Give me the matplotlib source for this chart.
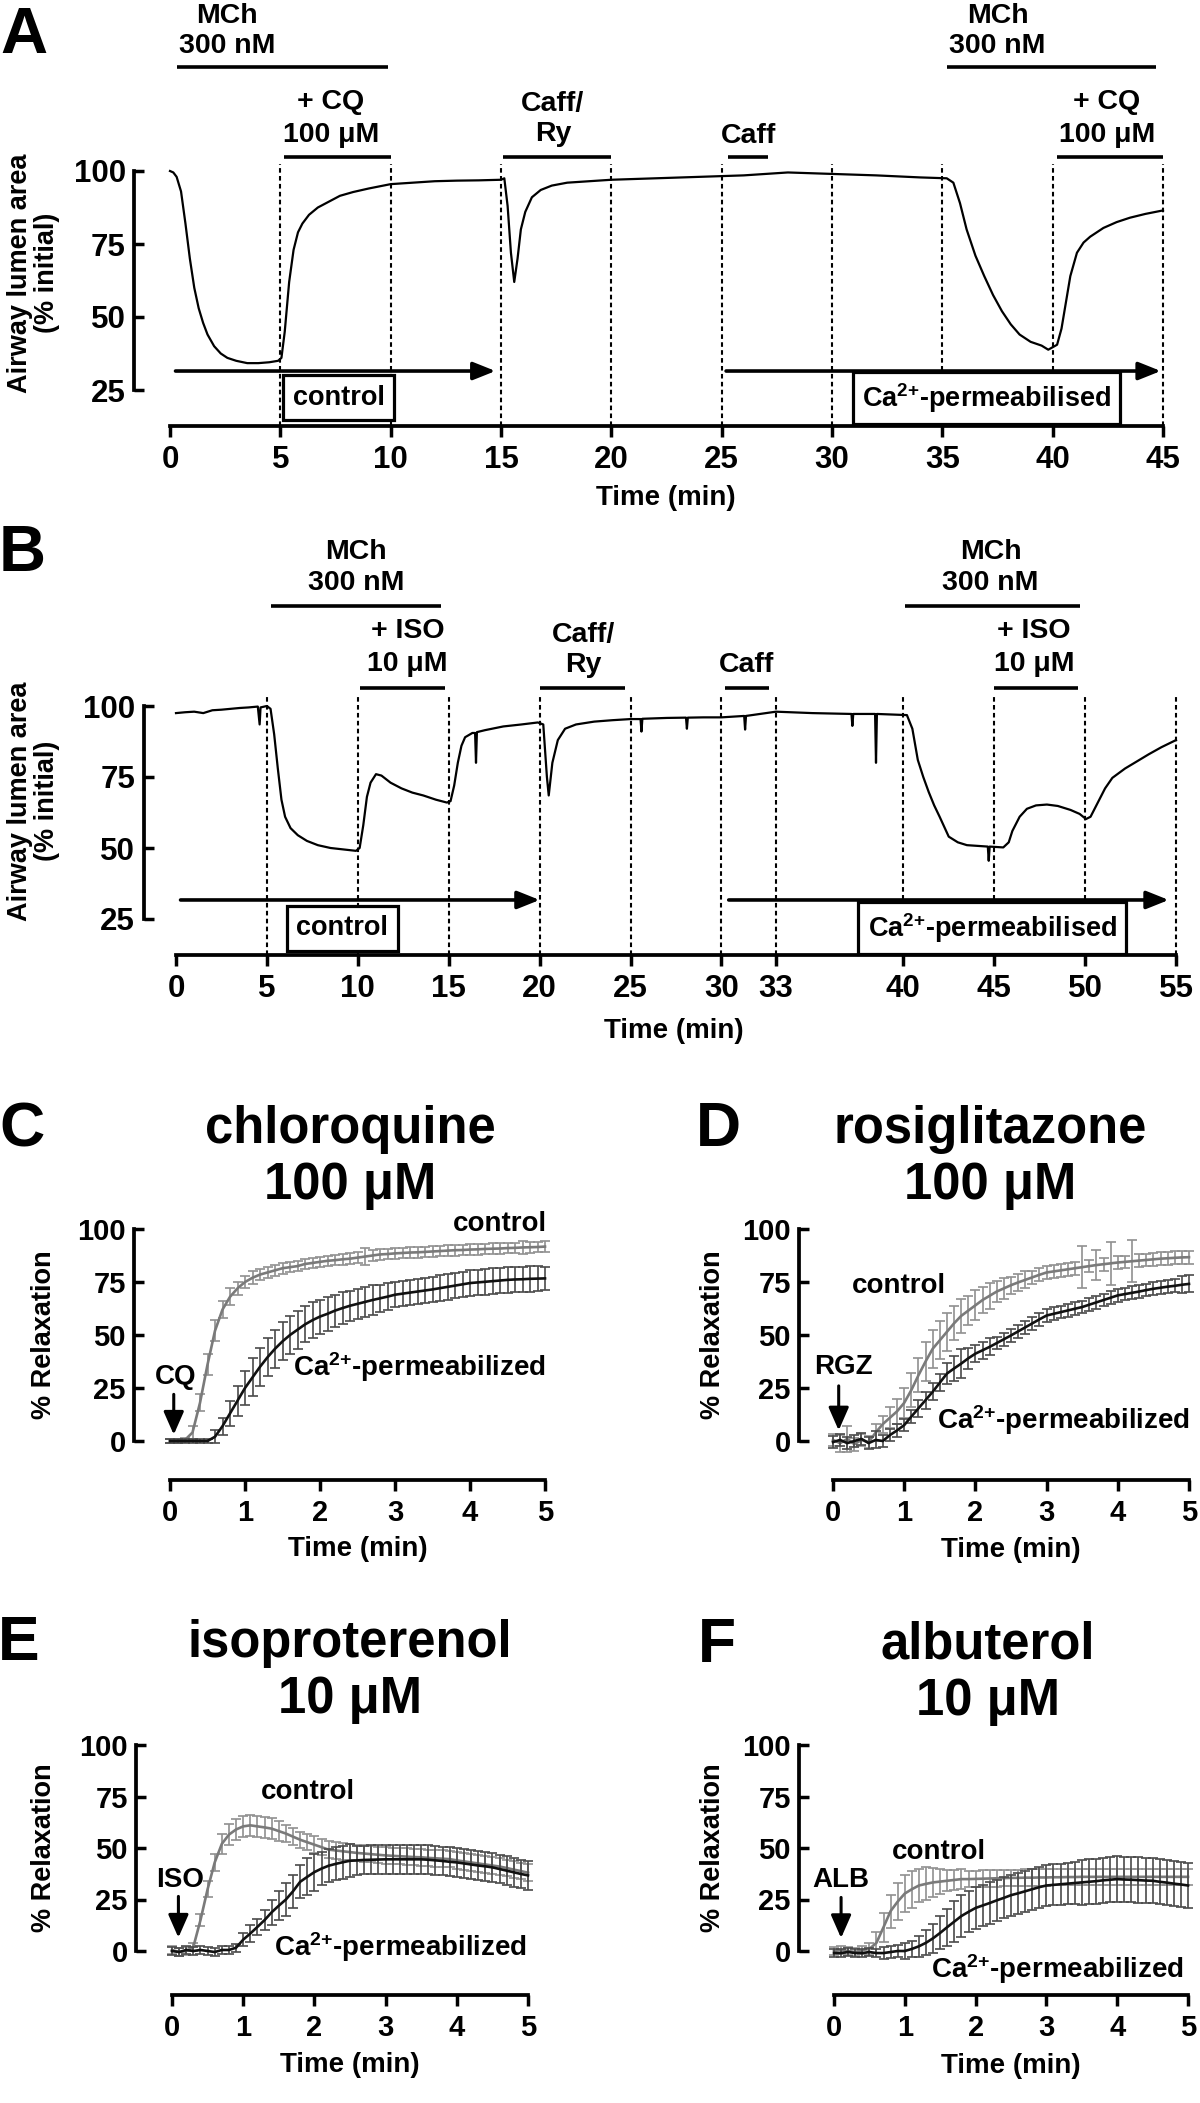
import numpy as np
import matplotlib
matplotlib.use("Agg")
import matplotlib.pyplot as plt

# ---------------- data ----------------
# Panel A : airway lumen area trace (chloroquine protocol)
a_time = [0, 0.15, 0.3, 0.5, 0.7, 0.9, 1.1, 1.3, 1.5, 1.7,
          2.0, 2.3, 2.6, 3.0, 3.5, 4.0, 4.5, 4.9, 5.05, 5.2,
          5.4, 5.6, 5.8, 6.0, 6.3, 6.7, 7.2, 7.7, 8.3, 9.0,
          10, 11, 12, 13, 14, 15.0, 15.15, 15.3, 15.45, 15.6,
          15.75, 15.9, 16.1, 16.4, 16.8, 17.3, 18, 19, 20, 22,
          24, 26, 28, 30, 32, 34, 35.2, 35.5, 35.8, 36.1,
          36.5, 36.9, 37.3, 37.7, 38.1, 38.5, 39.0, 39.5, 39.8, 40.2,
          40.4, 40.6, 40.8, 41.1, 41.4, 41.7, 42.3, 42.9, 43.5, 44.2, 45]
a_area = [100, 99.5, 98, 93, 82, 70, 60, 53, 48, 44,
          40, 37.5, 36, 35, 34.2, 34.2, 34.5, 35, 36, 45,
          62, 73, 79, 82, 85, 87.5, 89.5, 91.5, 92.8, 94,
          95.5, 96, 96.5, 96.7, 96.8, 97, 97.5, 88, 72, 62,
          70, 80, 86, 91, 93.5, 95, 96, 96.5, 97, 97.5,
          98, 98.5, 99.5, 99, 98.5, 97.8, 97.5, 96, 89, 80,
          71, 64, 57.5, 52, 47.5, 44, 41.5, 40.2, 38.8, 40.5,
          46, 55, 64, 72, 75.5, 77.5, 80.5, 82.5, 84, 85.3, 86.5]
a_xticks = [0, 5, 10, 15, 20, 25, 30, 35, 40, 45]
a_dashed = [5, 10, 15, 20, 25, 30, 35, 40, 45]

# Panel B : airway lumen area trace (isoproterenol protocol)
b_time = [0, 0.5, 1, 1.5, 2, 2.5, 3, 3.5, 4, 4.5,
          4.6, 4.65, 5.0, 5.2, 5.4, 5.6, 5.8, 6.0, 6.3, 6.7,
          7.2, 7.8, 8.5, 9.2, 9.9, 10.1, 10.3, 10.5, 10.7, 11.0,
          11.3, 11.8, 12.4, 13.0, 13.6, 14.3, 14.9, 15.1, 15.3, 15.5,
          15.7, 15.9, 16.3, 16.45, 16.5, 16.55, 17, 18, 19, 19.9,
          20.2, 20.4, 20.5, 20.7, 21, 21.4, 22, 23, 24, 25,
          25.55, 25.6, 25.65, 27, 28.05, 28.1, 28.15, 29, 30, 31.25,
          31.3, 31.35, 33, 35, 37.15, 37.2, 37.25, 38.45, 38.5, 38.55,
          40.2, 40.5, 40.8, 41.1, 41.4, 41.7, 42.0, 42.5, 43.0, 43.5,
          44.65, 44.7, 44.75, 45.5, 45.8, 46.0, 46.4, 46.8, 47.3, 47.9,
          48.5, 49.2, 49.7, 50.05, 50.3, 50.7, 51.1, 51.5, 52.2, 52.8,
          53.5, 54.2, 55]
b_area = [97.5, 97.8, 98, 97.5, 98.5, 98.7, 99, 99.3, 99.5, 99.8,
          93.5, 99.5, 100, 99, 90, 78, 67, 61, 57, 54.5,
          52.5, 51, 50, 49.5, 49, 50, 58, 68, 73, 76,
          75.5, 73, 71, 69.5, 68.5, 67, 66, 66.5, 72, 80,
          86, 89, 90.5, 90.5, 80, 90.8, 91.5, 92.8, 93.5, 94.2,
          93.5, 75, 68.5, 80, 88, 92, 93.5, 94.5, 95, 95.4,
          95.4, 91, 95.5, 95.8, 95.9, 92, 95.9, 96, 96, 96.5,
          91.7, 96.5, 98, 97.5, 97.2, 93, 97.2, 97.2, 80, 97.2,
          96.8, 92, 81, 75, 69.7, 65, 61, 54, 52, 51,
          50.5, 45.5, 50.5, 50.2, 52, 56, 61, 63.8, 65, 65.3,
          64.8, 63.4, 62, 60.2, 61, 66, 71, 74.7, 78, 80.3,
          83, 85.5, 88]
b_xticks = [0, 5, 10, 15, 20, 25, 30, 33, 40, 45, 50, 55]
b_dashed = [5, 10, 15, 20, 25, 30, 33, 40, 45, 50, 55]

# Panels C-F : % relaxation, mean and SEM
t5 = [0.0, 0.1, 0.2, 0.3, 0.4, 0.5, 0.6, 0.7, 0.8, 0.9,
      1.0, 1.1, 1.2, 1.3, 1.4, 1.5, 1.6, 1.7, 1.8, 1.9,
      2.0, 2.1, 2.2, 2.3, 2.4, 2.5, 2.6, 2.7, 2.8, 2.9,
      3.0, 3.1, 3.2, 3.3, 3.4, 3.5, 3.6, 3.7, 3.8, 3.9,
      4.0, 4.1, 4.2, 4.3, 4.4, 4.5, 4.6, 4.7, 4.8, 4.9, 5.0]

cq_ctrl = [0, 0, 0.5, 4, 18, 36, 52, 62, 68, 72,
           75, 77, 78.5, 79.5, 80.5, 81.5, 82, 82.5, 83.5, 84,
           84.5, 85, 85.3, 85.7, 86, 86.5, 87, 87.5, 88, 88.2,
           88.5, 88.7, 88.9, 89, 89.2, 89.4, 89.6, 89.8, 90, 90.1,
           90.3, 90.4, 90.6, 90.7, 90.8, 91, 91.1, 91.3, 91.4, 91.5, 91.7]
cq_ctrl_err = [1, 1, 1, 3, 4, 5, 5, 4, 4, 3,
               3, 3, 2.5, 2.5, 2.5, 2.5, 2.5, 2.5, 2.5, 2.5,
               2.5, 2.5, 2.5, 2.5, 2.5, 2.5, 4, 2.5, 2.5, 2.5,
               2.5, 2.5, 2.5, 2.5, 2.5, 2.5, 2.5, 2.5, 2.5, 2.5,
               2.5, 2.5, 2.5, 2.5, 2.5, 2.5, 2.5, 3, 2.5, 2.5, 2.5]
cq_perm = [0, 0, 0, 0, 0, 0, 2, 7, 13, 19,
           25, 30, 35, 39.5, 43.5, 47, 50, 52.5, 55, 57,
           58.7, 60, 61.5, 62.7, 63.8, 64.7, 65.6, 66.5, 67.3, 68.1,
           69, 69.5, 70, 70.5, 71, 71.5, 72.1, 72.7, 73.3, 73.9,
           74.5, 74.8, 75.1, 75.4, 75.7, 76, 76.2, 76.3, 76.5, 76.6, 76.7]
cq_perm_err = [1, 1, 1, 1, 1, 1, 3, 4, 6, 7,
               8, 9, 9, 9, 9, 9, 9, 9, 8.5, 8.5,
               8, 8, 7.5, 7.5, 7, 7, 7, 7, 6.5, 6.5,
               6, 6, 6, 6, 6, 6, 6, 6, 6, 6,
               6, 6, 6, 6, 6, 6, 6, 6, 6, 6, 5.5]

rgz_ctrl = [0.5, -1, 1, -1.5, 0.5, -0.5, 4, 8, 11, 14,
            18, 24, 31, 37.5, 43.5, 47.5, 51.5, 55.5, 59, 61.5,
            64, 66.5, 68.5, 70.5, 72, 73.5, 74.8, 76, 77.2, 78.4,
            79.5, 80, 80.5, 81, 81.5, 82, 82.5, 83, 83.4, 83.8,
            84.2, 84.5, 84.8, 85.1, 85.4, 85.7, 86, 86.2, 86.4, 86.6, 86.7]
rgz_ctrl_err = [3, 4, 6, 3, 3, 3, 4, 4, 5, 6,
                7, 8, 8, 9, 9, 9, 9, 8, 8, 7,
                7, 6, 6, 5, 5, 4, 4, 4, 3, 3,
                3, 3, 3, 3, 3, 10, 3, 7, 3, 10,
                3, 3, 10, 3, 3, 3, 3, 3, 3, 3, 3]
rgz_perm = [-0.5, 0.5, -1, 0, 1, -1, 0.5, 0, 2.8, 5,
            7.5, 11.5, 15.4, 19.3, 23.2, 27.5, 31.8, 34.2, 36.5, 39,
            41.2, 42.8, 44.4, 46.2, 48, 49.8, 51.7, 53.6, 55.5, 57.4,
            59.2, 60, 60.8, 61.6, 62.4, 63.2, 64.3, 65.4, 66.5, 67.6,
            68.7, 69.3, 69.9, 70.5, 71.2, 71.8, 72.3, 72.8, 73.2, 73.7, 74.1]
rgz_perm_err = [3, 3, 3, 3, 3, 3, 4, 3, 3, 3,
                3, 3, 4, 4, 4, 4, 5, 6, 7, 5,
                4, 4, 4, 3, 3, 3, 3, 3, 3, 3,
                3, 3, 3, 3, 3, 3, 3, 3, 3, 3,
                3, 3, 3, 3, 3, 3, 3, 3, 3, 4, 4]

iso_ctrl = [0.5, -0.5, 0, 2, 15, 30, 43, 52, 56.5, 59,
            60.5, 61, 60.5, 60, 59.4, 58.2, 57, 55.5, 54, 52.8,
            51.6, 50.4, 49.2, 48.8, 48.4, 48, 47.6, 47.3, 47, 46.7,
            46.4, 46.2, 46, 45.8, 45.6, 45.5, 45.2, 45, 44.8, 44.6,
            44, 43.5, 43, 42.5, 42, 41.5, 41, 40.3, 39.5, 38.8, 38]
iso_ctrl_err = [2, 2, 2, 2, 3, 4, 4, 5, 5, 5,
                5, 5, 5, 5, 5, 5, 4, 4, 4, 4,
                4, 4, 4, 4, 4, 4, 4, 4, 4, 4,
                4, 4, 4, 4, 4, 4, 4, 4, 4, 4,
                4, 4, 4, 4, 4, 4, 4, 4, 4, 4, 4]
iso_perm = [0, -0.5, 0.5, 0, 0.5, 0, -0.5, 0.5, 0.5, 1.6,
            5.5, 8.5, 11.7, 15, 18.8, 22, 25, 29, 33.6, 36,
            38.3, 40, 41.4, 42.3, 43.1, 43.8, 44, 44.2, 44.3, 44.4,
            44.5, 44.5, 44.5, 44.5, 44.5, 44.5, 44.3, 44, 43.7, 43.3,
            43, 42.5, 42, 41.5, 41.1, 40.6, 39.8, 39, 38.2, 37.4, 36.7]
iso_perm_err = [2, 2, 2, 2, 2, 2, 2, 2, 2, 2,
                3, 4, 4, 5, 6, 7, 8, 8, 8, 9,
                9, 8, 8, 8, 8, 8, 7, 7, 7, 7,
                7, 7, 7, 7, 7, 7, 7, 7, 7, 7,
                7, 7, 7, 7, 7, 7, 7, 7, 7, 7, 7]

alb_ctrl = [0, 0.5, 0, -0.5, 0.5, 1, 4, 11.6, 19.4, 24,
            27.9, 30, 31.8, 32.6, 33.3, 33.7, 34.1, 34.5, 34.9, 34.9,
            35, 35.1, 35.2, 35.3, 35.4, 35.5, 35.5, 35.6, 35.6, 35.7,
            35.7, 35.8, 35.8, 35.9, 35.9, 36, 36, 36, 36, 36,
            36, 36, 36, 36, 36, 36, 36, 36, 36, 36, 36]
alb_ctrl_err = [2, 2, 2, 2, 2, 3, 5, 7, 8, 9,
                9, 9, 8, 8, 7, 6, 5, 5, 5, 4,
                4, 4, 4, 4, 4, 4, 4, 4, 4, 4,
                4, 4, 4, 4, 4, 4, 4, 4, 4, 4,
                4, 4, 4, 4, 4, 4, 4, 4, 4, 4, 4]
alb_perm = [-1, -1, -0.5, -1, -1, -0.5, -1, -1, -0.5, 0,
            0, 1, 2.3, 4, 6.2, 8.8, 11.6, 14.3, 17, 19,
            20.9, 22.1, 23.3, 24.6, 25.8, 27.1, 28, 29, 30, 31,
            31.8, 32.1, 32.4, 32.7, 33, 33.3, 33.6, 33.9, 34.3, 34.6,
            34.9, 34.7, 34.6, 34.4, 34.2, 34.1, 33.6, 33.2, 32.7, 32.3, 31.8]
alb_perm_err = [2, 2, 2, 2, 2, 2, 2, 3, 3, 3,
                4, 4, 5, 6, 7, 8, 9, 10, 10, 10,
                10, 10, 10, 10, 10, 10, 10, 10, 10, 10,
                10, 10, 10, 10, 10, 11, 11, 11, 11, 11,
                11, 11, 11, 11, 11, 11, 11, 11, 11, 11, 11]

relax_yticks = [0, 25, 50, 75, 100]
relax_xticks = [0, 1, 2, 3, 4, 5]

# ---------------- style ----------------
plt.rcParams.update({
    'font.family': ['Liberation Sans', 'DejaVu Sans'],
    'font.weight': 'bold',
    'axes.labelweight': 'bold',
    'mathtext.fontset': 'custom',
    'mathtext.rm': 'Liberation Sans:bold',
    'mathtext.bf': 'Liberation Sans:bold',
    'mathtext.it': 'Liberation Sans:bold:italic',
    'mathtext.sf': 'Liberation Sans:bold',
    'mathtext.default': 'rm',
})

W, H, DPI = 1200, 2103, 100
fig = plt.figure(figsize=(W / DPI, H / DPI), dpi=DPI)
fig.patch.set_facecolor('white')

CA = 'Ca$^{2{+}}$'


def ftext(x, y, s, size, rotation=0, ha='center', va='center', **kw):
    fig.text(x / W, 1 - y / H, s, fontsize=size, fontweight='bold',
             ha=ha, va=va, rotation=rotation, **kw)


def make_axes(spine_x, x0_px, x1_px, xv0, xv1, ytop_px, yv_top, ybot_px, yv_bot,
              xaxis_px, xticks, yticks, tick_fs):
    sx = (x1_px - x0_px) / (xv1 - xv0)
    sy = (ybot_px - ytop_px) / (yv_top - yv_bot)
    ax = fig.add_axes([spine_x / W, 1 - xaxis_px / H,
                       (x1_px - spine_x) / W, (xaxis_px - ytop_px) / H])
    ax.set_xlim(xv0 - (x0_px - spine_x) / sx, xv1)
    ax.set_ylim(yv_bot - (xaxis_px - ybot_px) / sy, yv_top)
    ax.patch.set_visible(False)
    ax.spines['top'].set_visible(False)
    ax.spines['right'].set_visible(False)
    ax.spines['left'].set_bounds(yv_bot, yv_top)
    ax.spines['bottom'].set_bounds(xv0, xv1)
    for s in ('left', 'bottom'):
        ax.spines[s].set_linewidth(2.7)
        ax.spines[s].set_capstyle('projecting')
    ax.set_xticks(xticks)
    ax.set_yticks(yticks)
    ax.tick_params(axis='y', direction='in', length=7, width=2.5, pad=6,
                   labelsize=tick_fs)
    ax.tick_params(axis='x', direction='out', length=8, width=2.5, pad=6,
                   labelsize=tick_fs)
    return ax


def hbar(ax, seg, y):
    ax.plot(seg, [y, y], color='k', lw=2.6, solid_capstyle='butt', clip_on=False)


def atext(ax, x, y, s, size=20.5, ha='center', va='center', **kw):
    ax.text(x, y, s, fontsize=size, fontweight='bold', ha=ha, va=va,
            clip_on=False, **kw)


def harrow(ax, x0, x1, y):
    ax.annotate('', xy=(x1, y), xytext=(x0, y), annotation_clip=False,
                arrowprops=dict(arrowstyle='-|>,head_length=0.45,head_width=0.18',
                                mutation_scale=30, lw=2.6, color='k',
                                shrinkA=0, shrinkB=0))


def varrow(ax, x, y0, y1):
    ax.annotate('', xy=(x, y1), xytext=(x, y0), annotation_clip=False,
                arrowprops=dict(arrowstyle='-|>,head_length=0.5,head_width=0.22',
                                mutation_scale=28, lw=2.2, color='k',
                                shrinkA=0, shrinkB=0))


def boxed(ax, x, y, s):
    ax.text(x, y, s, fontsize=19.5, fontweight='bold', ha='center', va='center',
            clip_on=False,
            bbox=dict(boxstyle='square,pad=0.35', fc='white', ec='k', lw=2.3))


# ---------------- Panel A ----------------
axA = make_axes(134, 170, 1163, 0, 45, 171, 100, 390, 25, 426,
                a_xticks, [25, 50, 75, 100], 22.5)
yloA = axA.get_ylim()[0]
axA.vlines(a_dashed, yloA, 102.5, colors='k', linestyles=(0, (2.2, 1.6)),
           lw=1.5, clip_on=False)
axA.plot(a_time, a_area, color='k', lw=1.6, clip_on=False)
for xc in (2.6, 37.5):
    atext(axA, xc, 153, 'MCh')
    atext(axA, xc, 142.8, '300 nM')
hbar(axA, [0.3, 9.9], 135.6)
hbar(axA, [35.2, 44.7], 135.6)
for xc in (7.3, 42.45):
    atext(axA, xc, 123.6, '+ CQ')
    atext(axA, xc, 112.3, '100 μM')
hbar(axA, [5.15, 10.0], 104.8)
hbar(axA, [40.2, 45.0], 104.8)
atext(axA, 17.35, 123, 'Caff/')
atext(axA, 17.35, 112.7, 'Ry')
hbar(axA, [15.1, 20.0], 104.8)
atext(axA, 26.2, 112, 'Caff')
hbar(axA, [25.3, 27.1], 104.8)
harrow(axA, 0.25, 14.75, 31.5)
harrow(axA, 25.2, 44.9, 31.5)
boxed(axA, 7.65, 22.3, 'control')
boxed(axA, 37.0, 22.3, CA + '-permeabilised')

ftext(24, 36, 'A', 47)
ftext(34, 273, 'Airway lumen area\n(% initial)', 19.5, rotation=90, linespacing=1.05)
ftext(666, 498, 'Time (min)', 20)

# ---------------- Panel B ----------------
axB = make_axes(143.5, 176, 1176, 0, 55, 706, 100, 919, 25, 955,
                b_xticks, [25, 50, 75, 100], 22.5)
yloB = axB.get_ylim()[0]
axB.vlines(b_dashed, yloB, 104.2, colors='k', linestyles=(0, (2.2, 1.6)),
           lw=1.5, clip_on=False)
axB.plot(b_time, b_area, color='k', lw=1.6, clip_on=False)
for xc in (9.9, 44.8):
    atext(axB, xc, 154.2, 'MCh')
    atext(axB, xc, 143.3, '300 nM')
hbar(axB, [5.2, 14.6], 135.2)
hbar(axB, [40.1, 49.7], 135.2)
for xc in (12.74, 47.2):
    atext(axB, xc, 126.4, '+ ISO')
    atext(axB, xc, 114.9, '10 μM')
hbar(axB, [10.1, 14.8], 106.5)
hbar(axB, [45.0, 49.6], 106.5)
atext(axB, 22.4, 125, 'Caff/')
atext(axB, 22.4, 114.4, 'Ry')
hbar(axB, [20.0, 24.7], 106.5)
atext(axB, 31.4, 114.4, 'Caff')
hbar(axB, [30.2, 32.6], 106.5)
harrow(axB, 0.25, 20.0, 31.7)
harrow(axB, 30.4, 54.6, 31.7)
boxed(axB, 9.15, 21.8, 'control')
boxed(axB, 44.9, 21.8, CA + '-permeabilised')

ftext(22, 554, 'B', 47)
ftext(34, 801, 'Airway lumen area\n(% initial)', 19.5, rotation=90, linespacing=1.05)
ftext(674, 1031, 'Time (min)', 20)


# ---------------- Panels C-F ----------------
def relax(ax, cm, ce, pm, pe):
    ax.errorbar(t5, cm, yerr=ce, color='#7a7a7a', ecolor='#909090',
                elinewidth=1.2, capsize=3.5, capthick=1.2, lw=1.9,
                clip_on=False, zorder=2)
    ax.errorbar(t5, pm, yerr=pe, color='#111111', ecolor='#4a4a4a',
                elinewidth=1.2, capsize=3.5, capthick=1.2, lw=1.9,
                clip_on=False, zorder=3)


axC = make_axes(134, 170, 545, 0, 5, 1229, 100, 1441, 0, 1480,
                relax_xticks, relax_yticks, 21)
relax(axC, cq_ctrl, cq_ctrl_err, cq_perm, cq_perm_err)
atext(axC, 5.03, 102.5, 'control', 20, ha='right')
atext(axC, 5.02, 34.9, CA + '-permeabilized', 20, ha='right')
atext(axC, 0.08, 30, 'CQ', 20)
varrow(axC, 0.05, 22, 3)

axD = make_axes(799, 833, 1189, 0, 5, 1229, 100, 1441, 0, 1480,
                relax_xticks, relax_yticks, 21)
relax(axD, rgz_ctrl, rgz_ctrl_err, rgz_perm, rgz_perm_err)
atext(axD, 0.92, 73, 'control', 20)
atext(axD, 1.46, 10, CA + '-permeabilized', 20, ha='left')
atext(axD, 0.14, 35, 'RGZ', 20)
varrow(axD, 0.08, 26, 5)

axE = make_axes(136, 172, 528, 0, 5, 1745, 100, 1951, 0, 1995,
                relax_xticks, relax_yticks, 21)
relax(axE, iso_ctrl, iso_ctrl_err, iso_perm, iso_perm_err)
atext(axE, 1.91, 77, 'control', 20)
atext(axE, 1.43, 2, CA + '-permeabilized', 20, ha='left')
atext(axE, 0.11, 34.5, 'ISO', 20)
varrow(axE, 0.09, 26.5, 6.5)

axF = make_axes(799, 834, 1188, 0, 5, 1745, 100, 1951, 0, 1995,
                relax_xticks, relax_yticks, 21)
relax(axF, alb_ctrl, alb_ctrl_err, alb_perm, alb_perm_err)
atext(axF, 1.48, 48, 'control', 20)
atext(axF, 1.37, -8.7, CA + '-permeabilized', 20, ha='left')
atext(axF, 0.1, 34.4, 'ALB', 20)
varrow(axF, 0.1, 26, 6.3)

# panel letters, titles and axis labels
ftext(22, 1130, 'C', 45)
ftext(718, 1130, 'D', 45)
ftext(19, 1643, 'E', 45)
ftext(717, 1645, 'F', 45)
ftext(350, 1130, 'chloroquine', 36.5)
ftext(350, 1186, '100 μM', 36.5)
ftext(990, 1130, 'rosiglitazone', 36.5)
ftext(990, 1186, '100 μM', 36.5)
ftext(350, 1643, 'isoproterenol', 36.5)
ftext(350, 1700, '10 μM', 36.5)
ftext(988, 1645, 'albuterol', 36.5)
ftext(988, 1701, '10 μM', 36.5)
for (x, y) in ((44, 1335), (713, 1335), (44, 1848), (713, 1848)):
    ftext(x, y, '% Relaxation', 19.5, rotation=90)
for (x, y) in ((358, 1549), (1011, 1550), (350, 2065), (1011, 2066)):
    ftext(x, y, 'Time (min)', 20)

fig.savefig('out.png', dpi=DPI, facecolor='white')
